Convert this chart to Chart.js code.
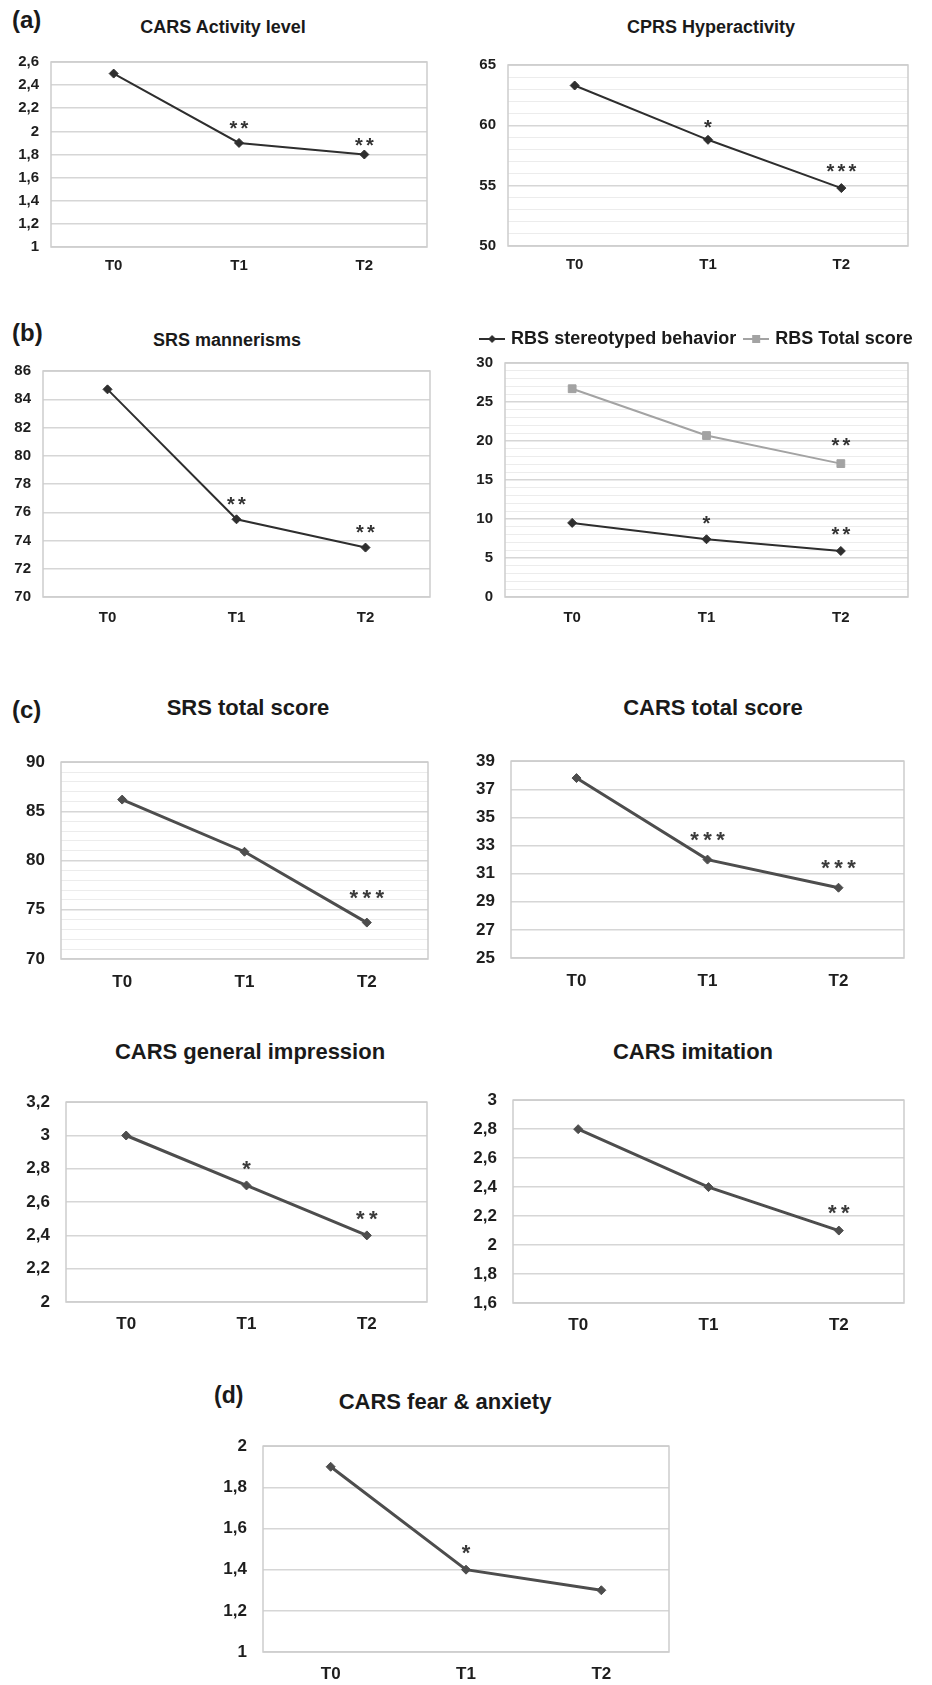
<!DOCTYPE html>
<html>
<head>
<meta charset="utf-8">
<script src="https://cdn.jsdelivr.net/npm/chart.js@4.4.1/dist/chart.umd.min.js"></script>
<style>
  html, body { margin: 0; padding: 0; background: #fff; }
  #page { position: relative; width: 932px; height: 1685px; overflow: hidden; font-family: "Liberation Sans", Arial, sans-serif; color: #1a1a1a; }
  #page canvas { position: absolute; }
  .ttl, .tag { position: absolute; font-weight: bold; white-space: nowrap; line-height: 1; }
  .ttl { transform: translate(-50%, -50%); }
  .tag { transform: translate(0, -50%); }
</style>
</head>
<body>
<div id="page"></div>
<script>
// categories
const timePoints = ['T0', 'T1', 'T2'];

// (a)
const carsActivity = [2.5, 1.9, 1.8];
const carsActivityStars = ['', '**', '**'];
const carsActivityStarAt = [null, 2.07, 1.92];

const cprsHyper = [63.3, 58.8, 54.8];
const cprsHyperStars = ['', '*', '***'];
const cprsHyperStarAt = [null, 60.2, 56.6];

// (b)
const srsMannerisms = [84.7, 75.5, 73.5];
const srsMannerismsStars = ['', '**', '**'];
const srsMannerismsStarAt = [null, 76.9, 74.9];

const rbsStereo = [9.5, 7.4, 5.9];
const rbsStereoStars = ['', '*', '**'];
const rbsStereoStarAt = [null, 10.0, 8.7];

const rbsTotal = [26.7, 20.7, 17.1];
const rbsTotalStars = ['', '', '**'];
const rbsTotalStarAt = [null, null, 20.1];

// (c)
const srsTotal = [86.2, 80.9, 73.7];
const srsTotalStars = ['', '', '***'];
const srsTotalStarAt = [null, null, 76.8];

const carsTotal = [37.8, 32.0, 30.0];
const carsTotalStars = ['', '***', '***'];
const carsTotalStarAt = [null, 33.8, 31.8];

const carsImpression = [3.0, 2.7, 2.4];
const carsImpressionStars = ['', '*', '**'];
const carsImpressionStarAt = [null, 2.83, 2.53];

const carsImitation = [2.8, 2.4, 2.1];
const carsImitationStars = ['', '', '**'];
const carsImitationStarAt = [null, null, 2.26];

// (d)
const carsFear = [1.9, 1.4, 1.3];
const carsFearStars = ['', '*', ''];
const carsFearStarAt = [null, 1.51, null];

const page = document.getElementById('page');
const FONT = '"Liberation Sans", Arial, sans-serif';
const DARK = '#2e2e2e';
const MID = '#4d4d4d';
const LIGHT = '#a3a3a3';

function fmt(v) {
    const r = Math.round(v * 10) / 10;
    return Number.isInteger(r) ? String(r) : r.toFixed(1).replace('.', ',');
}

function addText(cls, text, x, y, size) {
    const d = document.createElement('div');
    d.className = cls;
    d.textContent = text;
    d.style.left = x + 'px';
    d.style.top = y + 'px';
    d.style.fontSize = size + 'px';
    page.appendChild(d);
}

// small line + marker picture for the legend
function legendIcon(color, shape) {
    const c = document.createElement('canvas');
    c.width = 26; c.height = 12;
    const g = c.getContext('2d');
    g.strokeStyle = color; g.fillStyle = color; g.lineWidth = 2;
    g.beginPath(); g.moveTo(0, 6); g.lineTo(26, 6); g.stroke();
    g.beginPath();
    if (shape === 'rect') {
        g.rect(9, 2, 8, 8);
    } else {
        g.moveTo(13, 2); g.lineTo(17, 6); g.lineTo(13, 10); g.lineTo(9, 6); g.closePath();
    }
    g.fill();
    return c;
}

// grey frame round the plot area
const framePlugin = {
    id: 'frame',
    beforeDatasetsDraw(chart) {
        const {ctx, chartArea: a} = chart;
        ctx.save();
        ctx.strokeStyle = '#cdcdcd';
        ctx.lineWidth = 1.5;
        ctx.strokeRect(a.left, a.top, a.right - a.left, a.bottom - a.top);
        ctx.restore();
    }
};

// significance asterisks, placed in data units
const starsPlugin = {
    id: 'stars',
    afterDatasetsDraw(chart, args, opts) {
        const {ctx, scales: {x, y}} = chart;
        ctx.save();
        ctx.fillStyle = opts.color;
        ctx.font = 'bold ' + opts.size + 'px ' + FONT;
        ctx.textAlign = 'center';
        ctx.textBaseline = 'alphabetic';
        (opts.marks || []).forEach(m => {
            m.text.forEach((t, i) => {
                if (!t) return;
                const cx = x.getPixelForValue(i);
                const cy = y.getPixelForValue(m.at[i]);
                for (let k = 0; k < t.length; k++) {
                    const sx = cx + (k - (t.length - 1) / 2) * opts.spacing;
                    ctx.fillText('*', sx, cy + 0.57 * opts.size);
                }
            });
        });
        ctx.restore();
    }
};

// one-row legend running a bit past the plot on the right, with room below it
const LEGEND_EXTRA = 22;
const legendGap = {
    id: 'legendGap',
    beforeInit(chart) {
        const lg = chart.legend;
        if (!lg) return;
        const fit = lg.fit;
        const update = lg.update;
        lg.update = function (mw, mh, margins) {
            return update.call(this, this.options.display ? mw + LEGEND_EXTRA : mw, mh, margins);
        };
        lg.fit = function () {
            fit.call(this);
            if (this.options.display) this.height += 5;
        };
    },
    afterLayout(chart) {
        const lg = chart.legend;
        if (!lg || !lg.options.display) return;
        lg.right += LEGEND_EXTRA;
        lg.width += LEGEND_EXTRA;
    }
};

function addPanel(p) {
    const big = p.style === 'c';
    const padRight = p.padRight || 10;
    const legendH = p.legend ? 43 : 0;
    const xH = 42;
    const w = p.r - p.l + p.yW + padRight;
    const h = p.b - p.t + p.padTop + legendH + xH;
    const cv = document.createElement('canvas');
    cv.width = w; cv.height = h;
    cv.style.width = w + 'px'; cv.style.height = h + 'px';
    cv.style.left = (p.l - p.yW) + 'px';
    cv.style.top = (p.t - p.padTop - legendH) + 'px';
    page.appendChild(cv);

    const datasets = p.series.map(s => ({
        label: s.label,
        data: s.data,
        borderColor: s.color,
        backgroundColor: s.color,
        borderWidth: big ? 3 : 2,
        pointStyle: s.marker,
        pointRadius: s.marker === 'rect' ? 5.5 : 4.5,
        pointBackgroundColor: s.color,
        pointBorderColor: s.color,
        pointBorderWidth: 1,
        tension: 0
    }));

    new Chart(cv, {
        type: 'line',
        data: { labels: timePoints, datasets: datasets },
        options: {
            responsive: false,
            animation: false,
            devicePixelRatio: 1,
            layout: { padding: { top: p.padTop, right: padRight, left: 0, bottom: 0 } },
            scales: {
                x: {
                    offset: true,
                    grid: { display: false, drawTicks: false },
                    border: { display: false },
                    ticks: {
                        color: '#1e1e1e',
                        padding: p.xPad,
                        font: { family: FONT, weight: 'bold', size: big ? 17 : 15 }
                    },
                    afterFit: s => { s.height = xH; }
                },
                y: {
                    min: p.min,
                    max: p.max,
                    grid: {
                        drawTicks: false,
                        color: c => (p.every && Math.round(c.tick.value) % p.every !== 0) ? '#ececec' : '#d6d6d6',
                        lineWidth: c => (p.every && Math.round(c.tick.value) % p.every !== 0) ? 1 : 1.5
                    },
                    border: { display: false },
                    ticks: {
                        stepSize: p.step,
                        autoSkip: false,
                        color: '#1e1e1e',
                        padding: big ? 16 : 12,
                        font: { family: FONT, weight: 'bold', size: big ? 17 : 15 },
                        callback: v => (p.every && Math.round(v) % p.every !== 0) ? '' : fmt(v)
                    },
                    afterFit: s => { s.width = p.yW; }
                }
            },
            plugins: {
                legend: {
                    display: !!p.legend,
                    labels: {
                        usePointStyle: true,
                        pointStyleWidth: 20,
                        padding: 10,
                        color: '#1a1a1a',
                        font: { family: FONT, weight: 'bold', size: 18 },
                        generateLabels: chart => chart.data.datasets.map((ds, i) => ({
                            text: ds.label,
                            pointStyle: legendIcon(ds.borderColor, ds.pointStyle),
                            fillStyle: ds.borderColor,
                            strokeStyle: ds.borderColor,
                            lineWidth: 0,
                            hidden: false,
                            fontColor: '#1a1a1a',
                            datasetIndex: i
                        }))
                    }
                },
                tooltip: { enabled: false },
                stars: {
                    color: big ? '#3a3a3a' : '#333',
                    size: big ? 22 : 20,
                    spacing: big ? 13 : 11,
                    marks: p.series.map(s => ({ text: s.stars, at: s.starAt }))
                }
            }
        },
        plugins: [framePlugin, starsPlugin, legendGap]
    });

    if (p.title) addText('ttl', p.title, p.tx, p.ty, big ? 22 : 18);
}

// panel labels
addText('tag', '(a)', 12, 20, 24);
addText('tag', '(b)', 12, 333, 24);
addText('tag', '(c)', 12, 710, 24);
addText('tag', '(d)', 214, 1395, 23);

addPanel({ l: 51, t: 53, r: 427, b: 247, yW: 48, padTop: 12, xPad: 10, style: 'a',
    min: 1, max: 2.6, step: 0.2, title: 'CARS Activity level', tx: 223, ty: 27,
    series: [{ label: 'CARS Activity level', data: carsActivity, color: DARK, marker: 'rectRot', stars: carsActivityStars, starAt: carsActivityStarAt }] });

addPanel({ l: 508, t: 56, r: 908, b: 246, yW: 45, padTop: 12, xPad: 10, style: 'a',
    min: 50, max: 65, step: 1, every: 5, title: 'CPRS Hyperactivity', tx: 711, ty: 27,
    series: [{ label: 'CPRS Hyperactivity', data: cprsHyper, color: DARK, marker: 'rectRot', stars: cprsHyperStars, starAt: cprsHyperStarAt }] });

addPanel({ l: 43, t: 360, r: 430, b: 597, yW: 40, padTop: 10, xPad: 12, style: 'a',
    min: 70, max: 86, step: 2, title: 'SRS mannerisms', tx: 227, ty: 340,
    series: [{ label: 'SRS mannerisms', data: srsMannerisms, color: DARK, marker: 'rectRot', stars: srsMannerismsStars, starAt: srsMannerismsStarAt }] });

addPanel({ l: 505, t: 363, r: 908, b: 597, yW: 40, padTop: 4, padRight: 10, xPad: 12, style: 'a', legend: true,
    min: 0, max: 30, step: 1, every: 5,
    series: [
        { label: 'RBS stereotyped behavior', data: rbsStereo, color: DARK, marker: 'rectRot', stars: rbsStereoStars, starAt: rbsStereoStarAt },
        { label: 'RBS Total score', data: rbsTotal, color: LIGHT, marker: 'rect', stars: rbsTotalStars, starAt: rbsTotalStarAt }
    ] });

addPanel({ l: 61, t: 748, r: 428, b: 959, yW: 58, padTop: 12, xPad: 13, style: 'c',
    min: 70, max: 90, step: 1, every: 5, title: 'SRS total score', tx: 248, ty: 708,
    series: [{ label: 'SRS total score', data: srsTotal, color: MID, marker: 'rectRot', stars: srsTotalStars, starAt: srsTotalStarAt }] });

addPanel({ l: 511, t: 747, r: 904, b: 958, yW: 45, padTop: 12, xPad: 13, style: 'c',
    min: 25, max: 39, step: 2, title: 'CARS total score', tx: 713, ty: 708,
    series: [{ label: 'CARS total score', data: carsTotal, color: MID, marker: 'rectRot', stars: carsTotalStars, starAt: carsTotalStarAt }] });

addPanel({ l: 66, t: 1088, r: 427, b: 1302, yW: 62, padTop: 12, xPad: 12, style: 'c',
    min: 2, max: 3.2, step: 0.2, title: 'CARS general impression', tx: 250, ty: 1052,
    series: [{ label: 'CARS general impression', data: carsImpression, color: MID, marker: 'rectRot', stars: carsImpressionStars, starAt: carsImpressionStarAt }] });

addPanel({ l: 513, t: 1086, r: 904, b: 1303, yW: 48, padTop: 12, xPad: 12, style: 'c',
    min: 1.6, max: 3, step: 0.2, title: 'CARS imitation', tx: 693, ty: 1052,
    series: [{ label: 'CARS imitation', data: carsImitation, color: MID, marker: 'rectRot', stars: carsImitationStars, starAt: carsImitationStarAt }] });

addPanel({ l: 263, t: 1432, r: 669, b: 1652, yW: 55, padTop: 12, xPad: 12, style: 'c',
    min: 1, max: 2, step: 0.2, title: 'CARS fear & anxiety', tx: 445, ty: 1402,
    series: [{ label: 'CARS fear & anxiety', data: carsFear, color: MID, marker: 'rectRot', stars: carsFearStars, starAt: carsFearStarAt }] });
</script>
</body>
</html>
